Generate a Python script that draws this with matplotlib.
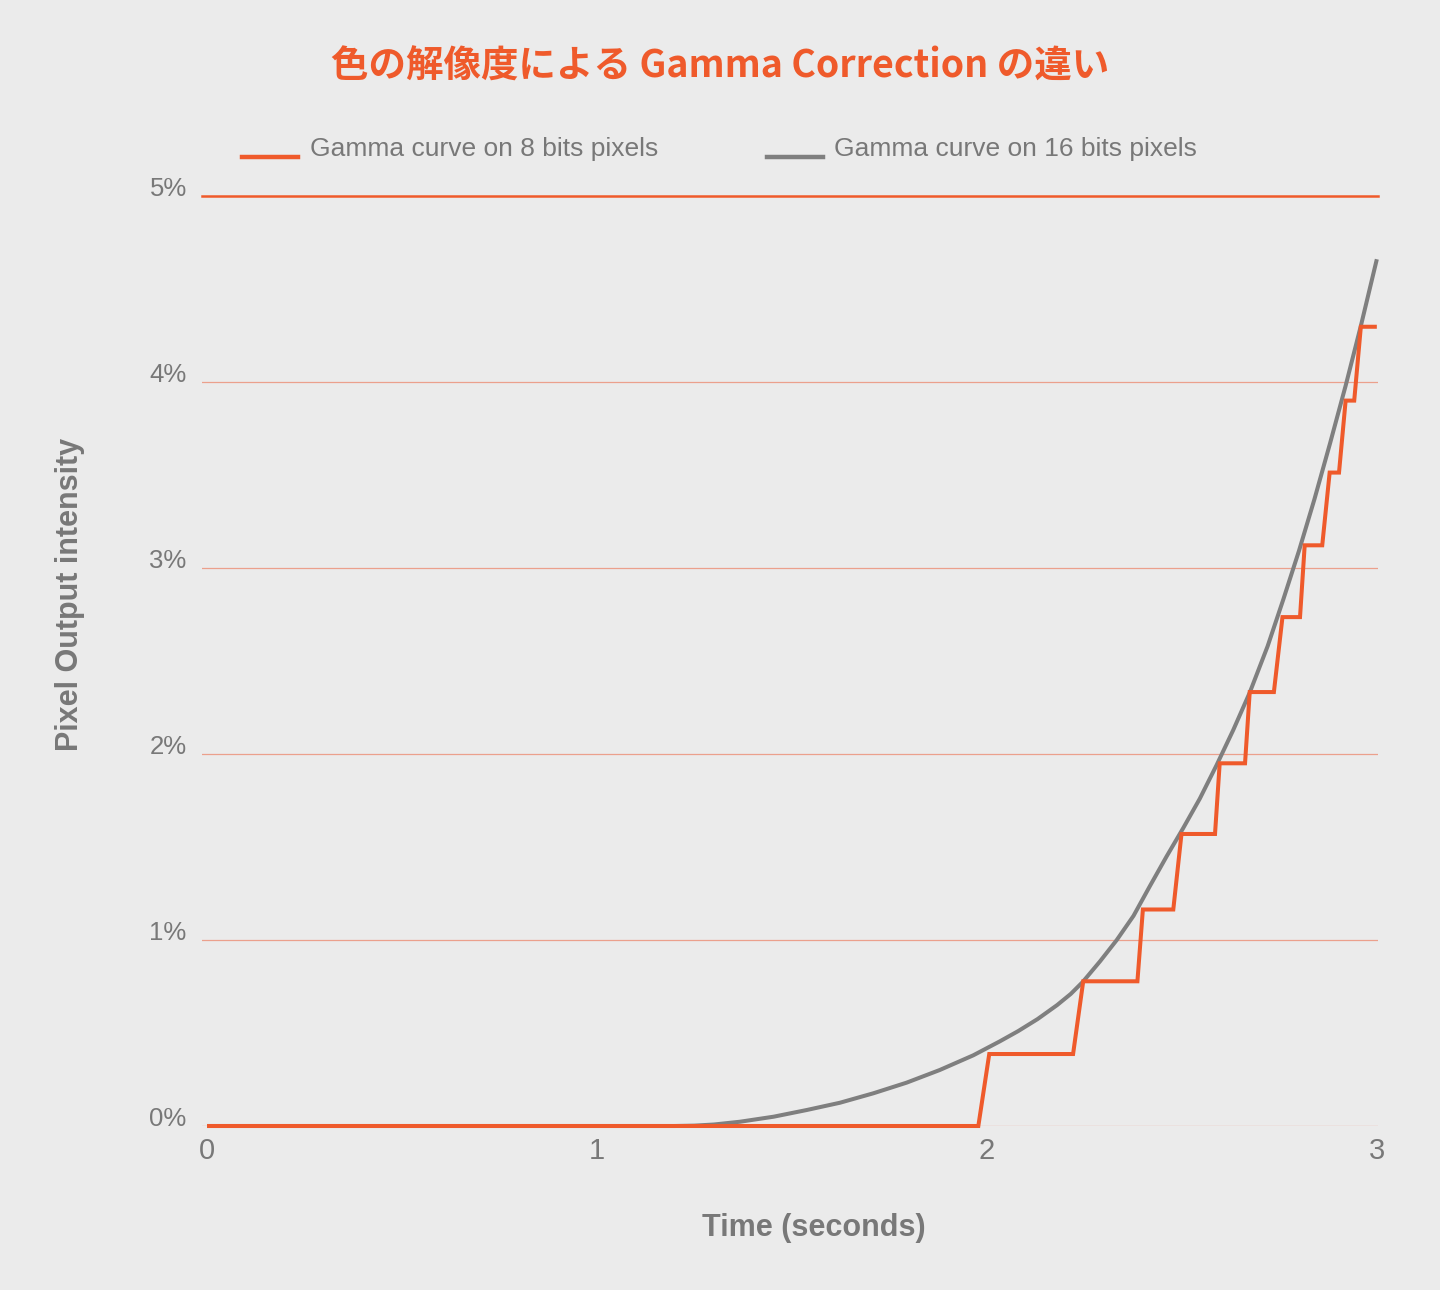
import matplotlib
matplotlib.use("Agg")
import matplotlib.pyplot as plt
from matplotlib.lines import Line2D

# ---------------- data ----------------
# 8-bit gamma curve (stepped), vertices (time s, intensity %)
t8 = [0.0, 1.978, 2.006, 2.221, 2.247, 2.386, 2.400, 2.478, 2.499, 2.585, 2.597,
      2.662, 2.674, 2.736, 2.758, 2.803, 2.815, 2.860, 2.879, 2.903, 2.920,
      2.942, 2.959, 3.0]
v8 = [0.0, 0.0, 0.387, 0.387, 0.778, 0.778, 1.164, 1.164, 1.57, 1.57, 1.95,
      1.95, 2.333, 2.333, 2.736, 2.736, 3.122, 3.122, 3.513, 3.513, 3.90,
      3.90, 4.297, 4.297]

# 16-bit gamma curve (smooth)
t16 = [0.0, 1.10, 1.20, 1.25, 1.30, 1.367, 1.453, 1.538, 1.623, 1.709, 1.794,
       1.879, 1.965, 2.033, 2.08, 2.13, 2.18, 2.215, 2.246, 2.29, 2.333, 2.376,
       2.418, 2.461, 2.503, 2.546, 2.589, 2.632, 2.674, 2.72, 2.76, 2.80, 2.84,
       2.88, 2.92, 2.96, 3.0]
v16 = [0.0, 0.0, 0.0, 0.002, 0.008, 0.023, 0.05, 0.086, 0.125, 0.176, 0.233,
       0.301, 0.38, 0.455, 0.51, 0.575, 0.65, 0.71, 0.775, 0.885, 1.0, 1.13,
       1.29, 1.45, 1.60, 1.76, 1.94, 2.13, 2.33, 2.58, 2.83, 3.09, 3.37,
       3.67, 3.98, 4.31, 4.66]

y_ticks = [0, 1, 2, 3, 4, 5]
y_tick_labels = ["0%", "1%", "2%", "3%", "4%", "5%"]
x_ticks = [0, 1, 2, 3]
x_tick_labels = ["0", "1", "2", "3"]

title = "色の解像度による Gamma Correction の違い"
series_names = ["Gamma curve on 8 bits pixels", "Gamma curve on 16 bits pixels"]
x_label = "Time (seconds)"
y_label = "Pixel Output intensity"

# ---------------- style ----------------
BG = "#ebebeb"
ORANGE = "#ef5a2b"
GRAY_LINE = "#7f7f7f"
TEXT_GRAY = "#787878"
GRID = "#eba08c"

fig = plt.figure(figsize=(14.4, 12.9), dpi=100, facecolor=BG)
ax = fig.add_axes([202 / 1440, 1 - 1126 / 1290, (1378 - 202) / 1440, (1126 - 196) / 1290])
ax.set_facecolor(BG)
ax.set_xlim(-0.013, 3.003)
ax.set_ylim(0, 5)

for s in ax.spines.values():
    s.set_visible(False)

# gridlines
for yv in y_ticks[:-1]:
    ax.axhline(yv, color=GRID, lw=0.9, zorder=1)
ax.axhline(5, color=ORANGE, lw=1.8, zorder=1, clip_on=False)

ax.plot(t16, v16, color=GRAY_LINE, lw=2.9, solid_capstyle="butt",
        solid_joinstyle="round", zorder=3, clip_on=False)
ax.plot(t8, v8, color=ORANGE, lw=2.9, solid_joinstyle="miter", solid_capstyle="butt",
        zorder=4, clip_on=False)

tick_font = ["Liberation Sans", "DejaVu Sans"]
ax.set_yticks(y_ticks)
ax.set_yticklabels(y_tick_labels, fontsize=18.5, color=TEXT_GRAY, family=tick_font)
for lab in ax.get_yticklabels():
    lab.set_verticalalignment("baseline")
ax.set_xticks(x_ticks)
ax.set_xticklabels(x_tick_labels, fontsize=21, color=TEXT_GRAY, family=tick_font)
ax.tick_params(axis="y", length=0, pad=11)
ax.tick_params(axis="x", length=0, pad=8)

# axis labels
fig.text(814 / 1440, 1 - 1228 / 1290, x_label, ha="center", va="center",
         fontsize=22, fontweight="bold", color=TEXT_GRAY, family=tick_font)
fig.text(70 / 1440, 1 - 594 / 1290, y_label, ha="center", va="center", rotation=90,
         fontsize=22, fontweight="bold", color=TEXT_GRAY, family=tick_font)

# title
fig.text(720 / 1440, 1 - 66 / 1290, title, ha="center", va="center",
         fontsize=27, fontweight="bold", color=ORANGE,
         family=["Noto Sans CJK JP", "DejaVu Sans"])

# legend (manual)
leg_font = ["Liberation Sans Narrow", "Liberation Sans", "DejaVu Sans"]
for (x0, x1, xt), col, name in zip([(242, 298, 310), (767, 823, 834)],
                                   [ORANGE, GRAY_LINE], series_names):
    fig.add_artist(Line2D([x0 / 1440, x1 / 1440], [1 - 157 / 1290, 1 - 157 / 1290],
                          color=col, lw=3.2, transform=fig.transFigure))
    fig.text(xt / 1440, 1 - 149 / 1290, name, ha="left", va="center",
             fontsize=19, color=TEXT_GRAY, family=leg_font)

fig.savefig("out.png", dpi=100, facecolor=BG)
